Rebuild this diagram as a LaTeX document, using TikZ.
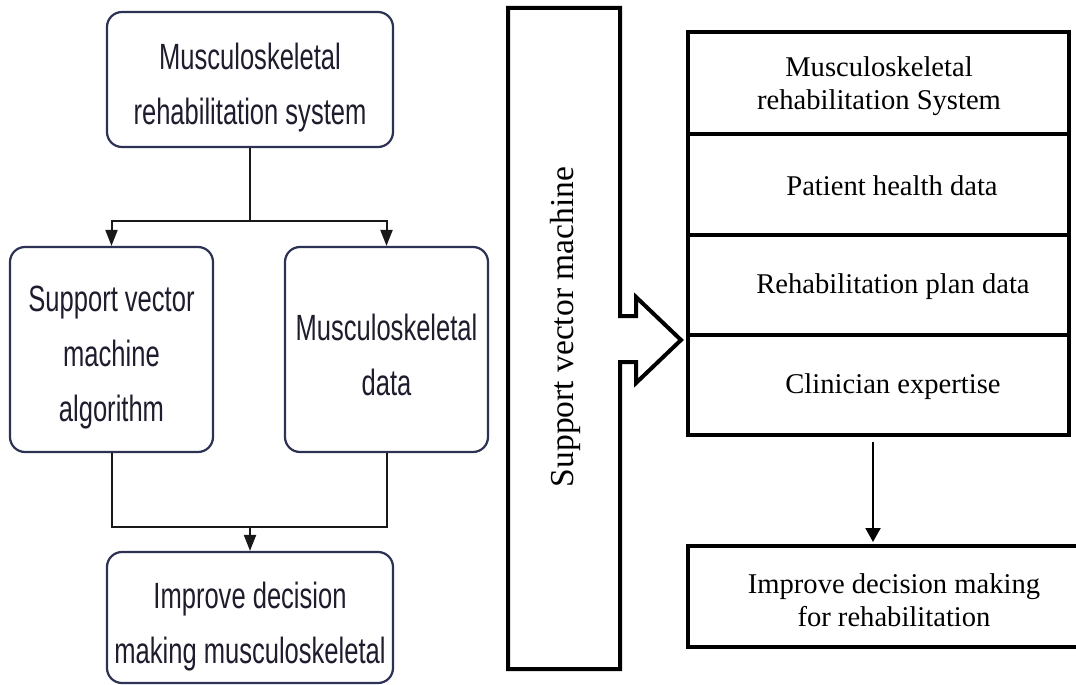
\documentclass[tikz,border=0pt]{standalone}
\usepackage{fontspec}
\setmainfont{Liberation Serif}
\newfontfamily\narrowsans[FakeStretch=0.7]{Liberation Sans}
\usetikzlibrary{arrows.meta,positioning,calc}
\definecolor{boxc}{RGB}{45,50,85}
\definecolor{txtc}{RGB}{30,28,45}
\tikzset{
  lbox/.style={draw=boxc, line width=2.2pt, rounded corners=15pt, fill=white,
    inner sep=0pt},
  ltext/.style={align=center, text=txtc, inner sep=0pt, yshift=-8pt,
    font=\narrowsans\fontsize{36.5}{55}\selectfont},
  conn/.style={draw=black!90, line width=2pt},
  larrow/.style={conn, -{Triangle[length=16pt,width=12pt]}},
  rsec/.style={draw=black, line width=4pt, minimum width=381pt, inner sep=0pt},
  rtext/.style={align=center, inner sep=0pt, font=\fontsize{28.6}{33}\selectfont},
  rarrow/.style={draw=black, line width=2pt, -{Triangle[length=14pt,width=15pt]}},
  bigshape/.style={draw=black, line width=4pt, line join=miter, fill=white}
}
\begin{document}
\begin{tikzpicture}[x=1pt,y=-1pt]
\useasboundingbox[fill=white] (0,0) rectangle (1076,685);
% ---------- left flowchart ----------
\node[lbox, minimum width=286pt, minimum height=135pt,
  label={[ltext]center:Musculoskeletal\\rehabilitation system}] (top) at (250,79.5) {};
\node[lbox, minimum width=203pt, minimum height=205pt,
  label={[ltext]center:Support vector\\machine\\algorithm}] (ml) at (111.5,349.5) {};
\node[lbox, minimum width=203pt, minimum height=205pt,
  label={[ltext, yshift=3pt]center:Musculoskeletal\\data}] (mr) at (386.5,349.5) {};
\node[lbox, minimum width=286pt, minimum height=131pt,
  label={[ltext, yshift=-1pt]center:Improve decision\\making musculoskeletal}] (bot) at (250,617.5) {};
\coordinate (split) at (250,221);
\coordinate (jn) at (250,527);
\draw[conn] (top.south) -- (split);
\draw[larrow] (split) -| (ml.north);
\draw[larrow] (split) -| (mr.north);
\draw[conn] (ml.south) |- (jn) -| (mr.south);
\draw[larrow] (jn) -- (bot.north);
% ---------- middle big block arrow ----------
\draw[bigshape] (508,8) -- (620,8) -- (620,316) -- (636,316) -- (636,297) -- (681,340)
  -- (636,383) -- (636,362) -- (620,362) -- (620,669) -- (508,669) -- cycle;
\node[rotate=90, inner sep=0pt, font=\fontsize{33.5}{38}\selectfont] (svm) at (565,327) {Support vector machine};
% ---------- right stack ----------
\node[rsec, minimum height=102pt] (s1) at (878.5,83) {};
\node[rsec, minimum height=101pt] (s2) at (878.5,184.5) {};
\node[rsec, minimum height=100pt] (s3) at (878.5,285) {};
\node[rsec, minimum height=100pt] (s4) at (878.5,385) {};
\node[rtext] (t1) at (879,86) {Musculoskeletal\\rehabilitation System};
\node[rtext] (t2) at (892,186) {Patient health data};
\node[rtext] (t3) at (893,287) {Rehabilitation plan data};
\node[rtext] (t4) at (893,387) {Clinician expertise};
\node[rsec, minimum width=402pt, minimum height=101pt] (rb) at (889,596.5) {};
\node[rtext] (t5) at (894,600) {Improve decision making\\for rehabilitation};
\coordinate (ra) at (873,442);
\coordinate (rb2) at (873,542);
\draw[rarrow] (ra) -- (rb2);
\end{tikzpicture}
\end{document}
